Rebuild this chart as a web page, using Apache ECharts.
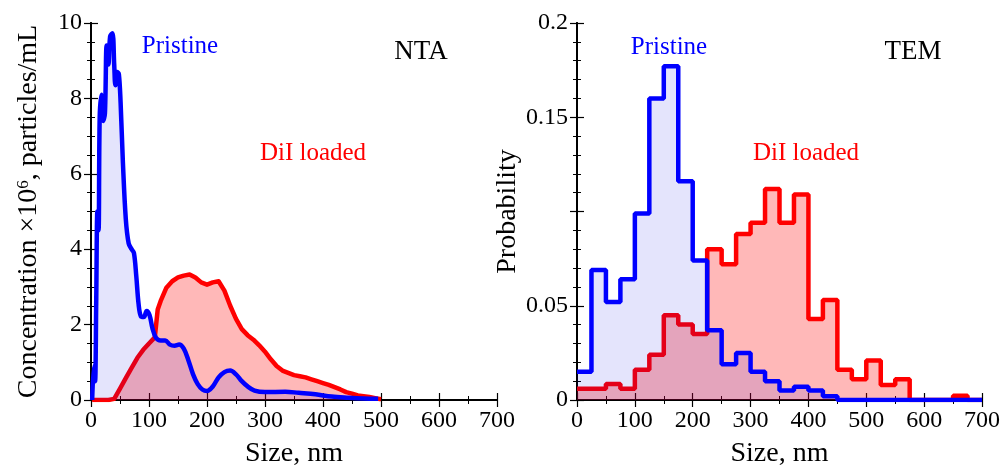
<!DOCTYPE html>
<html><head><meta charset="utf-8">
<script src="https://cdn.jsdelivr.net/npm/echarts@6/dist/echarts.min.js"></script>
<style>html,body{margin:0;padding:0;background:#fff}#c{width:1003px;height:473px}</style>
</head><body><div id="c"></div>
<script>
// ---- NTA (left panel) ----
const ntaPristineSize = [2,5,7,9,11,13,15,18,21,24,27,30,33,37,40,42,45,48,51,55,60,65,70,74,78,82,86,91,96,101,106,112,120,128,136,144,152,160,168,176,184,192,200,210,220,230,240,250,260,270,282,300,335,358,387,415,444,470,495];
const ntaPristineConc = [0,0.9,0.5,2.6,5.0,4.5,7.5,8.1,7.4,7.6,9.4,8.9,9.65,9.73,8.9,8.35,8.7,8.65,7.9,6.3,4.8,4.15,4.0,3.9,3.3,2.55,2.22,2.2,2.36,2.25,1.9,1.65,1.58,1.58,1.47,1.44,1.47,1.36,1.05,0.68,0.42,0.28,0.24,0.36,0.6,0.74,0.78,0.68,0.5,0.36,0.25,0.21,0.22,0.19,0.15,0.09,0.06,0.04,0.03];
const ntaLoadedSize = [2,10,20,30,40,50,60,70,80,90,100,110,115,120,130,140,150,160,170,180,190,200,210,220,230,240,250,260,270,280,290,300,310,320,330,340,350,360,370,380,390,400,410,420,430,440,450,460,470,480,490,500];
const ntaLoadedConc = [0,0,0,0,0.03,0.3,0.58,0.85,1.12,1.33,1.5,1.66,2.4,2.62,2.98,3.15,3.25,3.3,3.33,3.25,3.12,3.06,3.12,3.15,2.9,2.5,2.15,1.88,1.72,1.6,1.45,1.28,1.08,0.9,0.78,0.72,0.66,0.63,0.6,0.55,0.5,0.45,0.4,0.34,0.28,0.21,0.17,0.12,0.1,0.08,0.05,0.02];

// ---- TEM (right panel) histogram, 25 nm bins ----
const temBinStart = [0,25,50,75,100,125,150,175,200,225,250,275,300,325,350,375,400,425,450,475,500,525,550,575,600,625,650,675];
const temRangeEnd = 700;
const temPristineProb = [0.015,0.069,0.052,0.064,0.099,0.160,0.177,0.116,0.074,0.037,0.019,0.025,0.015,0.010,0.005,0.007,0.005,0.002,0,0,0,0,0,0,0,0,0,0];
const temLoadedProb = [0.006,0.006,0.0085,0.006,0.016,0.024,0.045,0.040,0.035,0.080,0.072,0.088,0.094,0.112,0.094,0.109,0.043,0.053,0.016,0.011,0.021,0.008,0.011,0,0,0,0.0023,0];

// ---- axes ----
const sizeTicks = {min:0, max:700, interval:100};
const ntaTicks = {min:0, max:10, interval:2};
const temTicks = {min:0, max:0.2, interval:0.05};

const FONT = "'Liberation Serif', 'DejaVu Serif', serif";
const BLUE = '#0000ff', RED = '#ff0000';
const BLUE_FILL = 'rgba(0,0,230,0.15)', RED_FILL = 'rgba(255,0,0,0.4)';

function pairs(xs, ys){ return xs.map((x,i)=>[x, ys[i]]); }
function histPairs(edges, vals, end){ const p = edges.map((x,i)=>[x, vals[i]]); p.push([end, 0]); return p; }

const chart = echarts.init(document.getElementById('c'), null, {renderer:'canvas'});

const lineAx = {show:true, lineStyle:{color:'#000', width:2}};
const tickAx = {show:true, inside:true, length:7, lineStyle:{color:'#000', width:1.2}};
const minorAx = (n)=>({show:true, splitNumber:n, length:4, lineStyle:{color:'#000', width:1}});
const labelAx = {fontSize:24, color:'#000', fontFamily:FONT, margin:9};

function xAx(grid, pos, showLabel){
  return Object.assign({gridIndex:grid, type:'value', position:pos}, sizeTicks, {
    axisLine:lineAx, axisTick:tickAx, minorTick:minorAx(2),
    axisLabel:Object.assign({show:showLabel}, labelAx),
    splitLine:{show:false}, minorSplitLine:{show:false},
    name: showLabel ? 'Size, nm' : '', nameLocation:'middle', nameGap:40,
    nameTextStyle:{fontSize:28, color:'#000', fontFamily:FONT}
  });
}
function yAx(grid, pos, showLabel, ticks, minorN, name, gap, fmt){
  return Object.assign({gridIndex:grid, type:'value', position:pos}, ticks, {
    axisLine:lineAx, axisTick:tickAx, minorTick:minorAx(minorN),
    axisLabel:Object.assign({show:showLabel, formatter:fmt}, labelAx),
    splitLine:{show:false}, minorSplitLine:{show:false},
    name: showLabel ? name : '', nameLocation:'middle', nameGap:gap,
    nameTextStyle:{fontSize:28, color:'#000', fontFamily:FONT,
      rich:{a:{fontSize:28, fontFamily:FONT, color:'#000'}, s:{fontSize:17, fontFamily:FONT, color:'#000', verticalAlign:'top'}}}
  });
}

const option = {
  animation:false,
  backgroundColor:'#fff',
  grid:[
    {left:91, top:23, width:406, height:381},
    {left:577, top:23, width:407, height:380}
  ],
  xAxis:[ xAx(0,'bottom',true), xAx(0,'top',false), xAx(1,'bottom',true), xAx(1,'top',false) ],
  yAxis:[
    yAx(0,'left',true,ntaTicks,4,'{a|Concentration ×10}{s|6}{a|, particles/mL}',48, v=>String(v)),
    yAx(0,'right',false,ntaTicks,4,'',0,null),
    yAx(1,'left',true,temTicks,5,'Probability',40, v=> Math.abs(v-0.1)<1e-9 ? '' : String(+v.toFixed(2))),
    yAx(1,'right',false,temTicks,5,'',0,null)
  ],
  series:[
    {type:'line', name:'DiI loaded NTA', xAxisIndex:0, yAxisIndex:0, data:pairs(ntaLoadedSize, ntaLoadedConc),
     symbol:'none', lineStyle:{color:RED, width:4.5, join:'round'}, itemStyle:{color:RED},
     areaStyle:{color:RED_FILL, origin:'start'}, z:2},
    {type:'line', name:'Pristine NTA', xAxisIndex:0, yAxisIndex:0, data:pairs(ntaPristineSize, ntaPristineConc),
     smooth:0.35, symbol:'none', lineStyle:{color:BLUE, width:4.5, join:'round'}, itemStyle:{color:BLUE},
     areaStyle:{color:BLUE_FILL, origin:'start'}, z:3},
    {type:'line', name:'DiI loaded TEM', xAxisIndex:2, yAxisIndex:2, data:histPairs(temBinStart, temLoadedProb, temRangeEnd),
     step:'end', symbol:'none', lineStyle:{color:RED, width:4.5}, itemStyle:{color:RED},
     areaStyle:{color:RED_FILL, origin:'start'}, z:2},
    {type:'line', name:'Pristine TEM', xAxisIndex:2, yAxisIndex:2, data:histPairs(temBinStart, temPristineProb, temRangeEnd),
     step:'end', symbol:'none', lineStyle:{color:BLUE, width:4.5}, itemStyle:{color:BLUE},
     areaStyle:{color:BLUE_FILL, origin:'start'}, z:3}
  ],
  graphic:[
    {type:'text', x:180, y:46, style:{text:'Pristine', fill:BLUE, font:'25px '+FONT, align:'center', verticalAlign:'middle'}},
    {type:'text', x:313, y:153, style:{text:'DiI loaded', fill:RED, font:'25px '+FONT, align:'center', verticalAlign:'middle'}},
    {type:'text', x:421, y:52, style:{text:'NTA', fill:'#000', font:'27px '+FONT, align:'center', verticalAlign:'middle'}},
    {type:'text', x:669, y:47, style:{text:'Pristine', fill:BLUE, font:'25px '+FONT, align:'center', verticalAlign:'middle'}},
    {type:'text', x:806, y:153, style:{text:'DiI loaded', fill:RED, font:'25px '+FONT, align:'center', verticalAlign:'middle'}},
    {type:'text', x:913, y:52, style:{text:'TEM', fill:'#000', font:'27px '+FONT, align:'center', verticalAlign:'middle'}}
  ]
};
chart.setOption(option);
</script>
</body></html>
